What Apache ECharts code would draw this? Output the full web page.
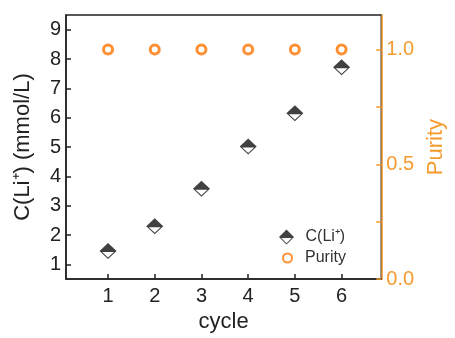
<!DOCTYPE html>
<html>
<head>
<meta charset="utf-8">
<script src="https://cdn.jsdelivr.net/npm/echarts@6/dist/echarts.min.js"></script>
<style>
  html, body { margin: 0; padding: 0; background: #fff; }
  #chart { width: 455px; height: 338px; }
</style>
</head>
<body>
<div id="chart"></div>
<script>
const cycles = [1, 2, 3, 4, 5, 6];
const liConc = [1.46, 2.3, 3.58, 5.02, 6.15, 7.72];
const purity = [1.0, 1.0, 1.0, 1.0, 1.0, 1.0];
const leftTicks = [1, 2, 3, 4, 5, 6, 7, 8, 9];
const rightLabels = [0, 0.5, 1.0];
const rightTicks = [0, 0.25, 0.5, 0.75, 1.0];

const ORANGE = "#FF7300";
const AXIS_ORANGE = "#F59A2E";
const FONT = "Liberation Sans";

// diamond with filled top half and hollow bottom half (inner triangle reversed -> hole)
const halfDiamond =
  "path://M10,0 L20,10 L0,10 Z M0,10 L20,10 L10,20 Z M3,11.3 L10,18.2 L17,11.3 Z";

const chart = echarts.init(document.getElementById("chart"));

const legendText = { fontSize: 16, color: "#333", fontFamily: FONT };

chart.setOption({
  animation: false,
  backgroundColor: "#fff",
  textStyle: { fontFamily: FONT },
  grid: {
    left: 66, right: 66, top: 15, bottom: 52,
    show: true, borderColor: "#222", borderWidth: 1.5,
  },
  legend: [
    {
      left: 274, top: 224,
      itemWidth: 16, itemHeight: 15, itemGap: 0,
      textStyle: Object.assign({ padding: [0, 0, 0, 6] }, legendText),
      data: [{ name: "C(Li⁺)", icon: halfDiamond }],
    },
    {
      left: 277, top: 245,
      itemWidth: 9, itemHeight: 9, itemGap: 0,
      textStyle: Object.assign({ padding: [0, 0, 0, 8] }, legendText),
      data: [{ name: "Purity", icon: "circle" }],
    },
  ],
  xAxis: {
    type: "value",
    min: 0.1, max: 6.85,
    name: "cycle",
    nameLocation: "middle",
    nameGap: 27,
    nameTextStyle: { fontSize: 22, color: "#222" },
    axisLine: { lineStyle: { color: "#222", width: 1.5 } },
    axisTick: { inside: true, length: 5, customValues: cycles, lineStyle: { color: "#222", width: 1.5 } },
    axisLabel: { customValues: cycles, fontSize: 20, color: "#222", margin: 7 },
    splitLine: { show: false },
  },
  yAxis: [
    {
      type: "value",
      min: 0.5, max: 9.5,
      name: "C(Li⁺) (mmol/L)",
      nameLocation: "middle",
      nameRotate: 90,
      nameGap: 32,
      nameTextStyle: { fontSize: 22, color: "#222" },
      axisLine: { lineStyle: { color: "#222", width: 1.5 } },
      axisTick: { inside: true, length: 5, customValues: leftTicks, lineStyle: { color: "#222", width: 1.5 } },
      axisLabel: { customValues: leftTicks, fontSize: 20, color: "#222", margin: 5 },
      splitLine: { show: false },
    },
    {
      type: "value",
      position: "right",
      min: 0, max: 1.15,
      name: "Purity",
      nameLocation: "middle",
      nameRotate: 90,
      nameGap: 41,
      nameTextStyle: { fontSize: 22, color: AXIS_ORANGE },
      axisLine: { lineStyle: { color: AXIS_ORANGE, width: 1.5 } },
      axisTick: { inside: true, length: 5, customValues: rightTicks, lineStyle: { color: AXIS_ORANGE, width: 1.5 } },
      axisLabel: {
        customValues: rightLabels, fontSize: 20, color: AXIS_ORANGE, margin: 5,
        formatter: (v) => v.toFixed(1),
      },
      splitLine: { show: false },
    },
  ],
  series: [
    {
      name: "C(Li⁺)",
      type: "scatter",
      yAxisIndex: 0,
      symbol: halfDiamond,
      symbolSize: [17, 16],
      itemStyle: { color: "#111" },
      data: cycles.map((c, i) => [c, liConc[i]]),
      z: 3,
    },
    {
      name: "Purity",
      type: "scatter",
      yAxisIndex: 1,
      symbol: "circle",
      symbolSize: 9,
      itemStyle: { color: "#fff", borderColor: ORANGE, borderWidth: 3 },
      data: cycles.map((c, i) => [c, purity[i]]),
      z: 4,
    },
  ],
});
</script>
</body>
</html>
